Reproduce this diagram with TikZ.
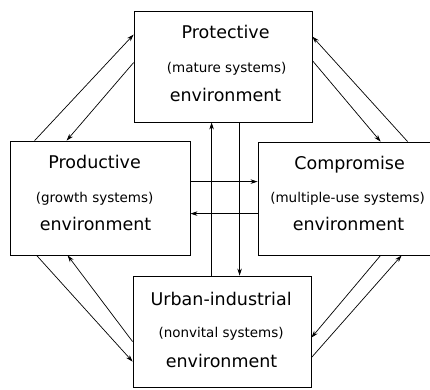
\documentclass[tikz,border=0pt]{standalone}
\usepackage{fontspec}
\setmainfont{DejaVu Sans}
\usetikzlibrary{calc,arrows.meta}
\begin{document}
\begin{tikzpicture}[x=1pt,y=-1pt,
  envbox/.style={draw, rectangle, inner sep=0pt, line width=0.8pt},
  ttl/.style={anchor=base, inner sep=0pt, font=\fontsize{17.5}{20}\selectfont},
  sub/.style={anchor=base, inner sep=0pt, font=\fontsize{13.5}{16}\selectfont},
  arr/.style={line width=0.7pt, -{Stealth[length=7pt,width=4.5pt]}}]
\clip (0,0) rectangle (430,389);
% boxes
\node[envbox, minimum width=178pt, minimum height=111pt] (prot) at (223,66.5) {};
\node[envbox, minimum width=180pt, minimum height=114pt] (prod) at (100,198) {};
\node[envbox, minimum width=182pt, minimum height=113pt] (comp) at (349,198.5) {};
\node[envbox, minimum width=178pt, minimum height=111pt] (urb) at (222,331.5) {};
% texts
\node[ttl] (prot1) at ($(prot.north west)+(92,28)$) {Protective};
\node[sub] (prot2) at ($(prot.north west)+(93,62)$) {(mature systems)};
\node[ttl] (prot3) at ($(prot.north west)+(92,91)$) {environment};
\node[ttl] (prod1) at ($(prod.north west)+(85,28)$) {Productive};
\node[sub] (prod2) at ($(prod.north west)+(85,62)$) {(growth systems)};
\node[ttl] (prod3) at ($(prod.north west)+(86,90)$) {environment};
\node[ttl] (comp1) at ($(comp.north west)+(92,28)$) {Compromise};
\node[sub] (comp2) at ($(comp.north west)+(90,61)$) {(multiple-use systems)};
\node[ttl] (comp3) at ($(comp.north west)+(91,89)$) {environment};
\node[ttl] (urb1) at ($(urb.north west)+(88.5,30)$) {Urban-industrial};
\node[sub] (urb2) at ($(urb.north west)+(88.5,62)$) {(nonvital systems)};
\node[ttl] (urb3) at ($(urb.north west)+(89,92)$) {environment};
% diagonal arrows
\draw[arr] ($(prod.north west)+(25,0)$) -- ($(prot.north west)+(0,24)$);
\draw[arr] ($(prot.north west)+(0,52)$) -- ($(prod.north west)+(57,0)$);
\draw[arr] ($(comp.north west)+(150,0)$) -- ($(prot.north east)+(0,26)$);
\draw[arr] ($(prot.north east)+(0,50)$) -- ($(comp.north west)+(123,0)$);
\draw[arr] ($(prod.south west)+(27,0)$) -- ($(urb.north west)+(0,86)$);
\draw[arr] ($(urb.north west)+(0,66)$) -- ($(prod.south west)+(58,0)$);
\draw[arr] ($(comp.south west)+(123,0)$) -- ($(urb.north east)+(0,62)$);
\draw[arr] ($(urb.north east)+(0,82)$) -- ($(comp.south west)+(144,0)$);
% vertical arrows
\draw[arr] ($(urb.north west)+(79,0)$) coordinate (u1) -- (u1 |- prot.south);
\draw[arr] ($(prot.south west)+(106,0)$) coordinate (p1) -- (p1 |- urb.north);
% horizontal arrows
\draw[arr] ($(prod.north east)+(0,41)$) coordinate (h1) -- (h1 -| comp.west);
\draw[arr] ($(comp.north west)+(0,72)$) coordinate (h2) -- (h2 -| prod.east);
\end{tikzpicture}
\end{document}
